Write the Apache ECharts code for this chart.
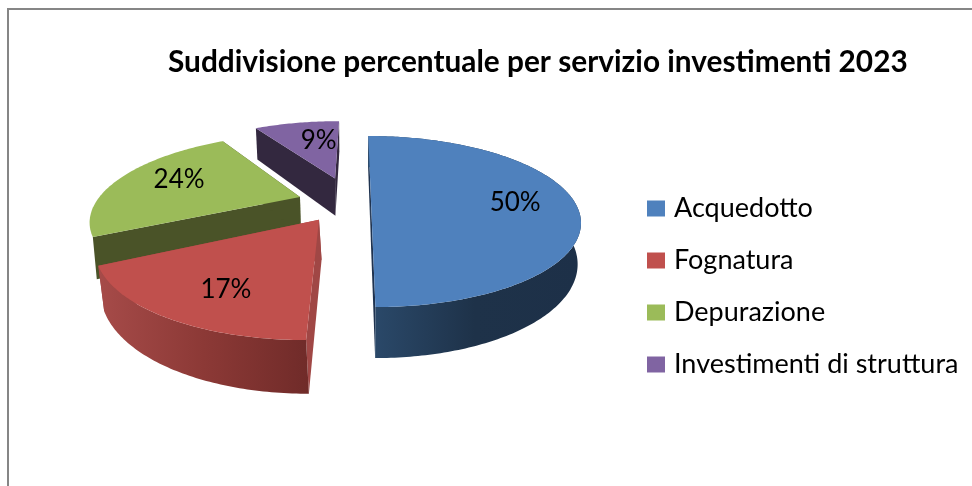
<!DOCTYPE html>
<html>
<head>
<meta charset="utf-8">
<style>html,body{margin:0;padding:0;background:#fff}#c{width:972px;height:486px}</style>
<script src="https://cdn.jsdelivr.net/npm/echarts@6/dist/echarts.min.js"></script>
</head>
<body>
<div id="c"></div>
<script>
var titleText = 'Suddivisione percentuale per servizio investimenti 2023';
var categories = ['Acquedotto', 'Fognatura', 'Depurazione', 'Investimenti di struttura'];
var shares = [50, 17.49, 23.8, 8.71];

var topColors = ['#4f81bd', '#c0504d', '#9bbb59', '#8064a2'];
var cutColors = ['#1f3350', '#a04745', '#4a5328', '#33283f'];
var wallColors = [['#2b4a6b', '#1e3249', '#1d3048'], ['#a64b49', '#8c3936', '#702b29'], null, null];
var drawOrder = [3, 4, 1, 2];

// perspective of the tilted disc
var CX = 357, CY = 201, RX = 203, RY = 80.6, K = 0.24;
// where each exploded slice sits on the disc, and its small tweaks
var sliceU = [14, -36, -57.7, -23.5];
var sliceV = [0, 0.22, -0.05, -0.3];
var sliceDepth = [38.8, 38, 38, 40];
var sliceShift = [0, 2, 0, 0];
var labelR = [0.71, 0.7, 0.62, 0.62];
var labelNudge = [[0, 2], [6, 7], [-8, -5], [9, -1]];

var total = shares.reduce(function (a, b) { return a + b; }, 0);
var starts = [];
shares.reduce(function (acc, v, i) { starts[i] = acc; return acc + v; }, 0);

function project(i, angle, r, lower) {
  var u = Math.sin(angle) * r, v = -Math.cos(angle) * r;
  var vt = sliceV[i] + v;
  var den = 1 - K * vt;
  var x = CX + (sliceU[i] + RX * u) / den;
  var y = CY + RY * vt / den;
  if (lower) {
    x = CX + (x - CX) * 0.985 + sliceShift[i];
    y += sliceDepth[i] / den;
  }
  return [x, y];
}

function arc(i, a0, a1, lower) {
  var pts = [], n = Math.max(2, Math.ceil((a1 - a0) / 0.015));
  for (var j = 0; j <= n; j++) pts.push(project(i, a0 + (a1 - a0) * j / n, 1, lower));
  return pts;
}

function makeRender(i) {
  return function (params, api) {
    var value = api.value(0);
    var a0 = starts[i] / total * Math.PI * 2;
    var a1 = a0 + value / total * Math.PI * 2;
    var topArc = arc(i, a0, a1, false);
    var lowArc = arc(i, a0, a1, true);
    var apex = project(i, 0, 0, false), apexLow = project(i, 0, 0, true);
    var kids = [];
    kids.push({ type: 'polygon', shape: { points: [apex, topArc[0], lowArc[0], apexLow] }, style: { fill: cutColors[i] } });
    kids.push({ type: 'polygon', shape: { points: [apex, topArc[topArc.length - 1], lowArc[lowArc.length - 1], apexLow] }, style: { fill: cutColors[i] } });
    if (wallColors[i]) {
      var w = wallColors[i];
      kids.push({
        type: 'polygon',
        shape: { points: topArc.concat(lowArc.slice().reverse()) },
        style: { fill: new echarts.graphic.LinearGradient(0, 0, 1, 0, [
          { offset: 0, color: w[0] }, { offset: 0.5, color: w[1] }, { offset: 1, color: w[2] }
        ]) }
      });
    }
    kids.push({ type: 'polygon', shape: { points: [apex].concat(topArc) }, style: { fill: topColors[i] } });
    var lp = project(i, (a0 + a1) / 2, labelR[i], false);
    kids.push({
      type: 'text',
      style: {
        text: Math.round(value) + '%',
        x: lp[0] + labelNudge[i][0], y: lp[1] + labelNudge[i][1],
        fill: '#000', font: '26px "Lato"', align: 'center', verticalAlign: 'middle'
      }
    });
    return { type: 'group', children: kids };
  };
}

var chart = echarts.init(document.getElementById('c'), null, { renderer: 'canvas' });
chart.setOption({
  animation: false,
  backgroundColor: '#ffffff',
  title: {
    text: titleText, left: 163, top: 42,
    textStyle: { fontFamily: 'Lato', fontWeight: 'bold', fontSize: 29.8, color: '#000' }
  },
  legend: {
    orient: 'vertical', left: 642, top: 190,
    itemWidth: 18, itemHeight: 16, itemGap: 25, icon: 'rect',
    selectedMode: false,
    data: categories.map(function (n, i) { return { name: n, itemStyle: { color: topColors[i] } }; }),
    textStyle: { fontFamily: 'Lato', fontSize: 27, color: '#000', padding: [0, 0, 0, 4] }
  },
  graphic: [{
    type: 'polyline', silent: true, shape: { points: [[8, 486], [8, 9], [972, 9]] },
    style: { stroke: '#868686', lineWidth: 2, fill: null }
  }],
  series: categories.map(function (n, i) {
    return {
      type: 'custom', name: n, coordinateSystem: 'none', z: drawOrder[i],
      itemStyle: { color: topColors[i] },
      renderItem: makeRender(i), data: [[shares[i]]], silent: true
    };
  })
});
</script>
</body>
</html>
